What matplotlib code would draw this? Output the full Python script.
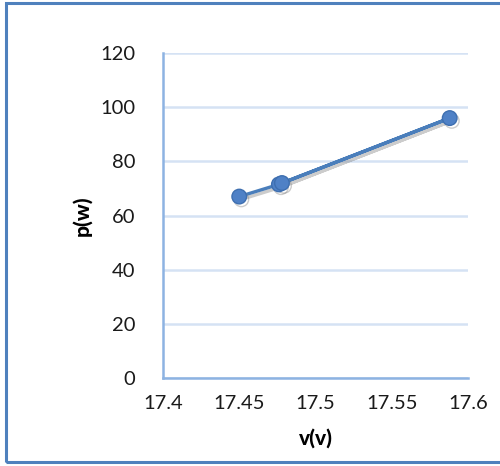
import matplotlib
matplotlib.use("Agg")
import matplotlib.pyplot as plt
import matplotlib.patheffects as pe
from matplotlib.patches import Rectangle

# measured voltage / power
voltage = [17.45, 17.476, 17.588, 17.478]
power = [67, 71.5, 96, 72]

x_ticks = [17.4, 17.45, 17.5, 17.55, 17.6]
x_tick_labels = ["17.4", "17.45", "17.5", "17.55", "17.6"]
y_ticks = [0, 20, 40, 60, 80, 100, 120]

plt.rcParams['font.family'] = ['Lato', 'DejaVu Sans']

fig = plt.figure(figsize=(5, 4.66), dpi=100)
ax = fig.add_axes([0.326, 0.189, 0.61, 0.697])

shadow = [pe.SimpleLineShadow(offset=(1.5, -2), shadow_color='gray', alpha=0.4), pe.Normal()]
ax.plot(voltage, power, color='#4a7ebb', linewidth=2.4, marker='o', markersize=10.5,
        markerfacecolor='#4f81c6', markeredgecolor='#3e6fb0', path_effects=shadow, zorder=3)

ax.set_xlim(17.4, 17.6)
ax.set_ylim(0, 120)
ax.set_xticks(x_ticks)
ax.set_xticklabels(x_tick_labels)
ax.set_yticks(y_ticks)
ax.tick_params(axis='y', length=0, labelsize=14.5, colors='#1a1a1a', pad=20)
ax.tick_params(axis='x', length=0, labelsize=14.5, colors='#1a1a1a', pad=12)

ax.grid(axis='y', color='#d5e2f4', linewidth=1.8)
ax.set_axisbelow(True)
for side in ['top', 'right']:
    ax.spines[side].set_visible(False)
for side in ['left', 'bottom']:
    ax.spines[side].set_color('#8db3e2')
    ax.spines[side].set_linewidth(1.8)

ax.set_xlabel("v(v)", fontsize=15, fontweight='black', labelpad=12)
ax.set_ylabel("p(w)", fontsize=15, fontweight='black', labelpad=6)

# chart border
fig.patches.append(Rectangle((0.012, 0.008), 1.2, 0.986, transform=fig.transFigure,
                             fill=False, edgecolor='#4f81bd', linewidth=2.2))

fig.savefig("out.png", dpi=100)
